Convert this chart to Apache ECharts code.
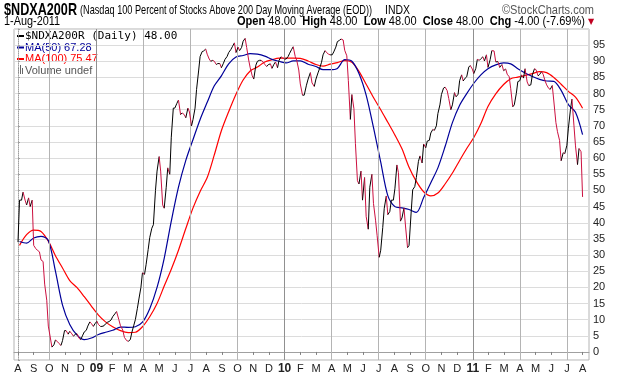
<!DOCTYPE html>
<html>
<head>
<meta charset="utf-8">
<script src="https://cdn.jsdelivr.net/npm/echarts@6/dist/echarts.min.js"></script>
<style>
  html, body { margin: 0; padding: 0; background: #fff; }
  #container { width: 620px; height: 376px; }
</style>
</head>
<body>
<div id="container"></div>
<script>
// closes read twice a week, 1-Aug-2008 .. 1-Aug-2011
const price = [
  34, 47, 47, 49.5, 47, 45.5, 47.7, 45, 47, 33, 32, 31.5, 31, 28.5, 28, 21, 16, 8, 4.3, 1.5,
  2.2, 3.7, 3.2, 2.6, 2, 3.5, 6.6, 6.6, 5.5, 6.4, 5.6, 4.9, 5.5, 5.6, 4.2, 3.8, 5.2, 6.2, 6.7, 8,
  9.3, 8.8, 7.9, 8.7, 9.5, 8.5, 7.9, 7.9, 8.1, 8.7, 9.2, 9.4, 9.9, 10.9, 11.8, 12.5, 10, 8.1, 6.8, 4.5,
  3.5, 3.3, 3.8, 6, 8.3, 10, 13.5, 16.4, 20, 24.5, 24, 27, 31.7, 35.4, 38.3, 39.4, 50, 56, 60.5, 56,
  45.5, 44.5, 51, 57, 55, 66.5, 75.5, 75.5, 77, 78, 73.5, 74, 73.5, 72.5, 75.5, 74.3, 70, 72, 75.5, 81.3,
  87, 91.5, 93, 93.2, 93.8, 92.2, 90.7, 90, 90.3, 90, 89, 89.3, 89.3, 88, 89.4, 90.6, 91.5, 92.7, 93.6, 94.5,
  95.7, 92.7, 94.4, 93.3, 94.3, 96.2, 97.1, 94.3, 90.4, 88, 85.5, 84.5, 88.8, 90, 90.3, 90.3, 89.8, 89, 88.4, 89,
  89.2, 87.8, 89.1, 89.8, 88, 90.3, 91.4, 91, 90.7, 90.7, 91.5, 92.5, 93.7, 94.5, 91.5, 90.3, 87.3, 83, 79.5, 79.5,
  82.6, 84.5, 86.5, 83.3, 82.2, 84.5, 86.4, 87.7, 89.7, 92, 93.3, 92.7, 92.2, 92, 92, 92.9, 94.4, 96.1, 96.5, 96.9,
  96.6, 93.4, 91.7, 84, 72, 79.7, 75.3, 64.5, 53, 52, 56, 47, 54, 42, 38, 51, 55, 46, 40.8, 36,
  29.3, 31.5, 38.5, 44.5, 48.3, 42.5, 43.5, 47, 47, 50.5, 57.9, 55.5, 40.5, 41.5, 44.6, 39, 32.3, 33, 43, 50.2,
  51.2, 54, 59, 60.7, 58.5, 64.4, 63.2, 65.3, 65.5, 67.8, 68.9, 68.6, 70, 73.8, 76.5, 79.7, 81.7, 82, 80.9, 78.5,
  75, 76.5, 80.3, 79, 79.8, 84, 85.8, 83.9, 84.8, 85.2, 88.2, 88.7, 87.6, 86.2, 87.8, 90.6, 90.3, 90.8, 91.4, 90.1,
  92, 88.1, 90.5, 93.3, 93.2, 89.8, 89.9, 88.1, 89, 87.1, 87.6, 86, 85.2, 81.5, 75.9, 76.5, 80, 83.7, 84, 85.8,
  84.8, 87.7, 83.6, 82.5, 82.7, 85.8, 87.7, 87.4, 85.5, 85.9, 86.8, 86, 83.9, 82.7, 81.6, 81.3, 82.5, 77.7, 71, 68.2,
  65.5, 59.2, 61.7, 61.4, 64, 69.3, 75, 78.3, 70, 63.8, 58, 63, 62, 48
];
// moving averages read every two weeks, 4-Aug-2008 .. 1-Aug-2011
const ma50 = [
  34.2, 33.7, 35.3, 35.8, 34.5, 25, 14.5, 8.5, 5.2, 3.8, 4.3, 5.4, 6.1, 6.7, 7.7, 7.6, 7.8, 9.2, 13.4, 20,
  29, 40.5, 51, 59.3, 65.8, 72, 77.3, 82.4, 85.5, 89.2, 91.3, 91.8, 92.4, 92.2, 91.6, 90.6, 90, 89.5, 90.1, 90.1,
  89.1, 88.4, 87.4, 87.4, 87.8, 90.5, 90, 86.2, 79.5, 69.5, 58.8, 48.4, 45, 44.6, 44.1, 43.2, 47.8, 52.4, 57, 63.6,
  71, 76.4, 80, 83.2, 85.8, 87.7, 88.9, 89.5, 89.2, 87.7, 86.4, 85.3, 84.4, 83.9, 83.8, 81, 76.6, 74.2, 67.28
];
const ma100 = [
  33, 36.3, 37.7, 37.3, 34.3, 29.8, 26, 22.1, 19.9, 17.1, 14.2, 11.4, 9.3, 7.8, 6.6, 6, 6.1, 7.8, 10.9, 15,
  20.4, 25.6, 31.5, 38.2, 44.6, 49.7, 54, 61, 68.5, 74.4, 79.8, 84.2, 87, 88.2, 89.8, 90.5, 91, 91, 91, 90.9,
  90.1, 89, 88.5, 89.1, 89.6, 90.2, 89.7, 86.9, 82.9, 78.8, 75, 71.1, 67.2, 62.9, 57.2, 52.8, 49.6, 48.3, 49.2, 52,
  55.4, 59.3, 63, 66.4, 70.7, 76, 79.9, 82.8, 84.6, 85.1, 85.6, 86.2, 86.8, 86.5, 85, 82.9, 80.7, 78.9, 75.47
];
const monthLetters = ['J', 'F', 'M', 'A', 'M', 'J', 'J', 'A', 'S', 'O', 'N', 'D'];
const yLabels = [0, 5, 10, 15, 20, 25, 30, 35, 40, 45, 50, 55, 60, 65, 70, 75, 80, 85, 90, 95];

const upColor = '#000000';
const downColor = '#cc1040';

// x scale unit: months since 1-Aug-2008
function monthPos(date) {
  const dim = new Date(date.getFullYear(), date.getMonth() + 1, 0).getDate();
  return (date.getFullYear() - 2008) * 12 + date.getMonth() - 7 + (date.getDate() - 1) / dim;
}
const priceData = price.map((v, i) => [monthPos(new Date(2008, 7, 1 + Math.floor(i * 3.5))), v]);
const ma50Data = ma50.map((v, i) => [monthPos(new Date(2008, 7, 4 + i * 14)), v]);
const ma100Data = ma100.map((v, i) => [monthPos(new Date(2008, 7, 4 + i * 14)), v]);

const monthTicks = [];
for (let i = 0; i <= 36; i++) monthTicks.push(i);
const quarterLines = monthTicks
  .filter(m => (m + 7) % 3 === 0)
  .map(m => ({
    xAxis: m,
    lineStyle: { color: (m + 7) % 12 === 0 ? '#909090' : '#b4b4b4', width: 1, type: 'solid' }
  }));

const mctx = document.createElement('canvas').getContext('2d');
function textW(str, font) { mctx.font = font; return mctx.measureText(str).width; }
function fit(str, font, w) { return w / textW(str, font); }

const fTitle = 'bold 17px "Liberation Sans"';
const fSub = '13px "Liberation Sans"';
const fRow = '12px "Liberation Sans"';
const titleText = '$NDXA200R';
const subText = '(Nasdaq 100 Percent of Stocks Above 200 Day Moving Average (EOD))';
const ohlcParts = [['Open', 1], [' 48.00  ', 0], ['High', 1], [' 48.00  ', 0], ['Low', 1], [' 48.00  ', 0],
  ['Close', 1], [' 48.00  ', 0], ['Chg', 1], [' -4.00 (-7.69%)', 0]];
const ohlcW = ohlcParts.reduce((s, p) => s + textW(p[0], p[1] ? 'bold 12px "Liberation Sans"' : fRow), 0);
const ohlcRich = ohlcParts.map(p => p[1] ? '{b|' + p[0] + '}' : '{n|' + p[0] + '}').join('');

const chartIns = echarts.init(document.getElementById('container'));

const option = {
  animation: false,
  backgroundColor: '#fff',
  grid: { left: 14, right: 31, top: 29, bottom: 16, show: true, borderColor: '#b4b4b4', borderWidth: 1 },
  xAxis: {
    type: 'value',
    min: -0.255,
    max: 36.41,
    axisLine: { show: true, lineStyle: { color: '#a0a0a0' } },
    axisTick: { show: true, length: 3, customValues: monthTicks, lineStyle: { color: '#808080' } },
    splitLine: { show: false },
    axisLabel: {
      customValues: monthTicks,
      margin: 3,
      fontSize: 11,
      fontFamily: 'Liberation Sans',
      color: '#222',
      formatter: function (v) {
        const mon = (Math.round(v) + 7) % 12;
        if (mon === 0) return '{y|' + String(2008 + Math.floor((Math.round(v) + 7) / 12)).slice(2) + '}';
        return monthLetters[mon];
      },
      rich: { y: { fontWeight: 'bold', fontSize: 12, fontFamily: 'Liberation Sans', color: '#222' } }
    }
  },
  yAxis: {
    type: 'value',
    position: 'right',
    min: -2.5,
    max: 100,
    splitNumber: 20,
    axisLine: { show: true, lineStyle: { color: '#a0a0a0', type: 'dotted' } },
    axisTick: { show: true, length: 2, lineStyle: { color: '#a0a0a0' } },
    splitLine: { show: true, lineStyle: { color: '#dcdcdc' } },
    axisLabel: {
      margin: 4,
      fontSize: 11,
      fontFamily: 'Liberation Sans',
      color: '#222',
      formatter: v => (yLabels.indexOf(v) >= 0 ? String(v) : '')
    }
  },
  graphic: [
    { type: 'text', x: 4, y: 10, scaleX: fit(titleText, fTitle, 73), style: { text: titleText, font: fTitle, fill: '#000', verticalAlign: 'middle' } },
    { type: 'text', x: 80, y: 10, scaleX: fit(subText, fSub, 292), style: { text: subText, font: fSub, fill: '#000', verticalAlign: 'middle' } },
    { type: 'text', x: 385, y: 10, scaleX: fit('INDX', fSub, 25), style: { text: 'INDX', font: fSub, fill: '#000', verticalAlign: 'middle' } },
    { type: 'text', x: 594, y: 10, scaleX: fit('\u00a9StockCharts.com', fSub, 92), style: { text: '\u00a9StockCharts.com', font: fSub, fill: '#555', align: 'right', verticalAlign: 'middle' } },
    { type: 'text', x: 4, y: 22, scaleX: fit('1-Aug-2011', fRow, 56), style: { text: '1-Aug-2011', font: fRow, fill: '#000', verticalAlign: 'middle' } },
    {
      type: 'text', x: 237, y: 22, scaleX: 348 / ohlcW,
      style: {
        text: ohlcRich, font: fRow, fill: '#000', verticalAlign: 'middle',
        rich: {
          b: { fontWeight: 'bold', fontSize: 12, fontFamily: 'Liberation Sans', fill: '#000' },
          n: { fontSize: 12, fontFamily: 'Liberation Sans', fill: '#000' }
        }
      }
    },
    { type: 'text', x: 588, y: 22, style: { text: '\u25bc', font: '8px "DejaVu Sans"', fill: '#c00020', verticalAlign: 'middle' } },
    // legend block
    { type: 'rect', shape: { x: 17, y: 35, width: 7, height: 2 }, style: { fill: '#000' } },
    { type: 'text', x: 25, y: 36, style: { text: '$NDXA200R (Daily) 48.00', font: '11px "DejaVu Sans Mono"', fill: '#000', verticalAlign: 'middle' } },
    { type: 'rect', shape: { x: 17, y: 46.5, width: 7, height: 2 }, style: { fill: '#000099' } },
    { type: 'text', x: 25, y: 47.5, style: { text: 'MA(50) 67.28', font: '11px "Liberation Sans"', fill: '#000099', verticalAlign: 'middle' } },
    { type: 'rect', shape: { x: 17, y: 58, width: 7, height: 2 }, style: { fill: '#ff0000' } },
    { type: 'text', x: 25, y: 59, style: { text: 'MA(100) 75.47', font: '11px "Liberation Sans"', fill: '#ff0000', verticalAlign: 'middle' } },
    { type: 'rect', shape: { x: 18, y: 67, width: 1, height: 7 }, style: { fill: '#666' } },
    { type: 'rect', shape: { x: 20, y: 65, width: 1, height: 9 }, style: { fill: '#666' } },
    { type: 'rect', shape: { x: 22, y: 68, width: 1, height: 6 }, style: { fill: '#666' } },
    { type: 'text', x: 25, y: 70.5, style: { text: 'Volume undef', font: '11px "Liberation Sans"', fill: '#555', verticalAlign: 'middle' } }
  ],
  series: [
    {
      // quarterly vertical grid
      type: 'line',
      data: [],
      silent: true,
      z: 1,
      markLine: { symbol: 'none', silent: true, animation: false, label: { show: false }, data: quarterLines }
    },
    {
      name: 'MA(100)',
      type: 'line',
      data: ma100Data,
      showSymbol: false,
      smooth: 0.3,
      z: 3,
      lineStyle: { color: '#ff0000', width: 1.2 }
    },
    {
      name: 'MA(50)',
      type: 'line',
      data: ma50Data,
      showSymbol: false,
      smooth: 0.3,
      z: 4,
      lineStyle: { color: '#000099', width: 1.2 }
    },
    {
      name: '$NDXA200R',
      type: 'custom',
      z: 5,
      data: priceData,
      encode: { x: 0, y: 1 },
      renderItem: function (params, api) {
        const i = params.dataIndex;
        if (i >= priceData.length - 1) return;
        const a = api.coord(priceData[i]);
        const b = api.coord(priceData[i + 1]);
        return {
          type: 'line',
          shape: { x1: a[0], y1: a[1], x2: b[0], y2: b[1] },
          style: { stroke: priceData[i + 1][1] >= priceData[i][1] ? upColor : downColor, lineWidth: 1 }
        };
      }
    }
  ]
};

chartIns.setOption(option);
</script>
</body>
</html>
